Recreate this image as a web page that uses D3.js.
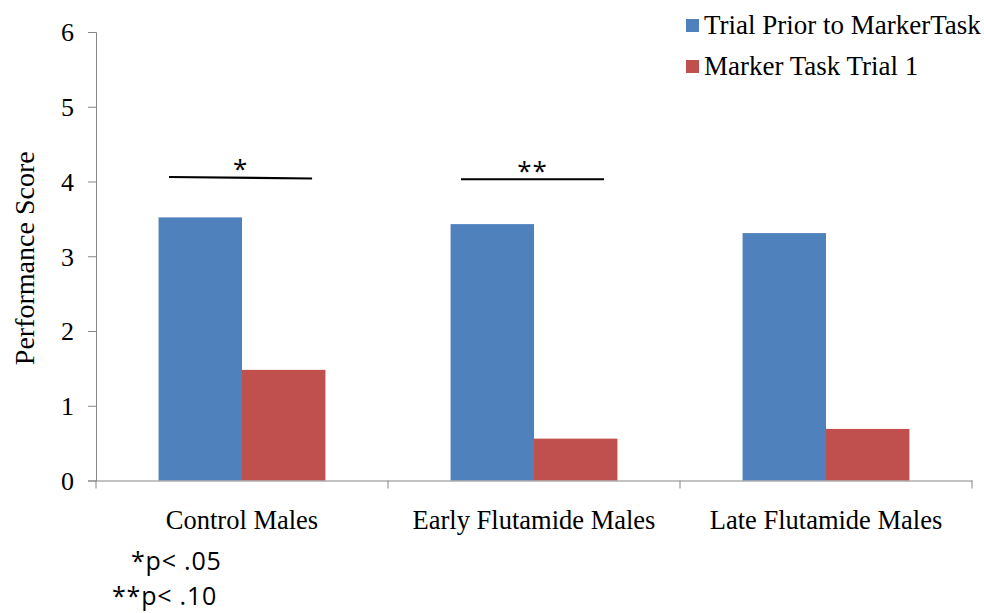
<!DOCTYPE html>
<html><head><meta charset="utf-8">
<script src="https://cdn.jsdelivr.net/npm/d3@7"></script>
<style>body{margin:0;background:#fff}svg{display:block}</style>
</head><body>
<svg id="c" width="984" height="613"></svg>
<script>
const categories = ["Control Males", "Early Flutamide Males", "Late Flutamide Males"];
const seriesNames = ["Trial Prior to MarkerTask", "Marker Task Trial 1"];
const priorValues = [3.52, 3.43, 3.31];
const markerValues = [1.48, 0.56, 0.69];
const yTicks = [0, 1, 2, 3, 4, 5, 6];
const sigLabels = ["*", "**"];
const sigCategories = ["Control Males", "Early Flutamide Males"];
const sigLevels = [4.06, 4.03];
const footnotes = ["*p< .05", "**p< .10"];
const colors = ["#4F81BD", "#C0504D"];

(function () {
const svg = d3.select("#c");
const mLeft = 96, mRight = 972, mTop = 32, mBottom = 480.5;

const x = d3.scaleBand().domain(categories).range([mLeft, mRight]).paddingInner(0).paddingOuter(0);
const inner = d3.scaleBand().domain(seriesNames).range([0, x.bandwidth()]).paddingOuter(0.75).paddingInner(0);
const y = d3.scaleLinear().domain([0, 6]).range([mBottom, mTop]);

const serif = "'Liberation Serif', 'Times New Roman', serif";
const sans = "'Open Sans', 'Liberation Sans', sans-serif";

// Y axis
const yAxis = svg.append("g").attr("transform", `translate(${mLeft},0)`)
  .call(d3.axisLeft(y).tickValues(yTicks).tickSize(8).tickPadding(14).tickFormat(d3.format("d")));
yAxis.select(".domain").attr("stroke", "#868686");
yAxis.selectAll(".tick line").attr("stroke", "#868686");
yAxis.selectAll("text").style("font-family", serif).style("font-size", "26px").attr("fill", "#000").attr("dy", "0.34em");

// Bars
const data = categories.map((c, i) => ({cat: c, vals: [priorValues[i], markerValues[i]]}));
const g = svg.append("g");
data.forEach(d => {
  d.vals.forEach((v, j) => {
    g.append("rect")
      .attr("x", x(d.cat) + inner(seriesNames[j]))
      .attr("y", y(v))
      .attr("width", inner.bandwidth())
      .attr("height", y(0) - y(v))
      .attr("fill", colors[j]);
  });
});

// X axis
const xAxis = svg.append("g").attr("transform", `translate(0,${mBottom})`)
  .call(d3.axisBottom(x).tickSize(0).tickPadding(30));
xAxis.select(".domain").attr("stroke", "#868686");
xAxis.selectAll("text").style("font-family", serif).style("font-size", "26.5px").attr("fill", "#000");
const bounds = [mLeft, ...categories.map(c => x(c) + x.bandwidth())];
svg.append("g").selectAll("line").data(bounds).join("line")
  .attr("x1", d => d).attr("x2", d => d)
  .attr("y1", mBottom).attr("y2", mBottom + 8)
  .attr("stroke", "#868686");

// significance lines
sigCategories.forEach((c, i) => {
  const x0 = x(c) + x.bandwidth() * 0.25;
  const x1 = x(c) + x.bandwidth() * 0.74;
  const yy = y(sigLevels[i]);
  svg.append("line").attr("x1", x0).attr("x2", x1).attr("y1", yy).attr("y2", yy + (i === 0 ? 1.5 : 0))
    .attr("stroke", "#000").attr("stroke-width", 2.2);
  svg.append("text").attr("x", (x0 + x1) / 2).attr("y", yy + 1)
    .attr("text-anchor", "middle").style("font-family", sans)
    .style("font-size", "26px").style("letter-spacing", "1px").text(sigLabels[i]);
});

// Y title
svg.append("text")
  .attr("transform", `translate(34,${(mTop + mBottom) / 2 + 2}) rotate(-90)`)
  .attr("text-anchor", "middle").style("font-family", serif).style("font-size", "28px")
  .text("Performance Score");

// Legend
const leg = svg.append("g");
seriesNames.forEach((s, i) => {
  const yy = 26 + i * 41;
  leg.append("rect").attr("x", 686).attr("y", yy - 7).attr("width", 13).attr("height", 13).attr("fill", colors[i]);
  leg.append("text").attr("x", 704).attr("y", yy + 8).style("font-family", serif).style("font-size", "27px")
    .text(s);
});

// Footnotes
footnotes.forEach((f, i) => {
  svg.append("text").attr("x", i === 0 ? 131 : 112).attr("y", 570 + i * 35)
    .style("font-family", sans).style("font-size", "25px").style("letter-spacing", "0.8px").text(f);
});
})();
</script>
</body></html>
